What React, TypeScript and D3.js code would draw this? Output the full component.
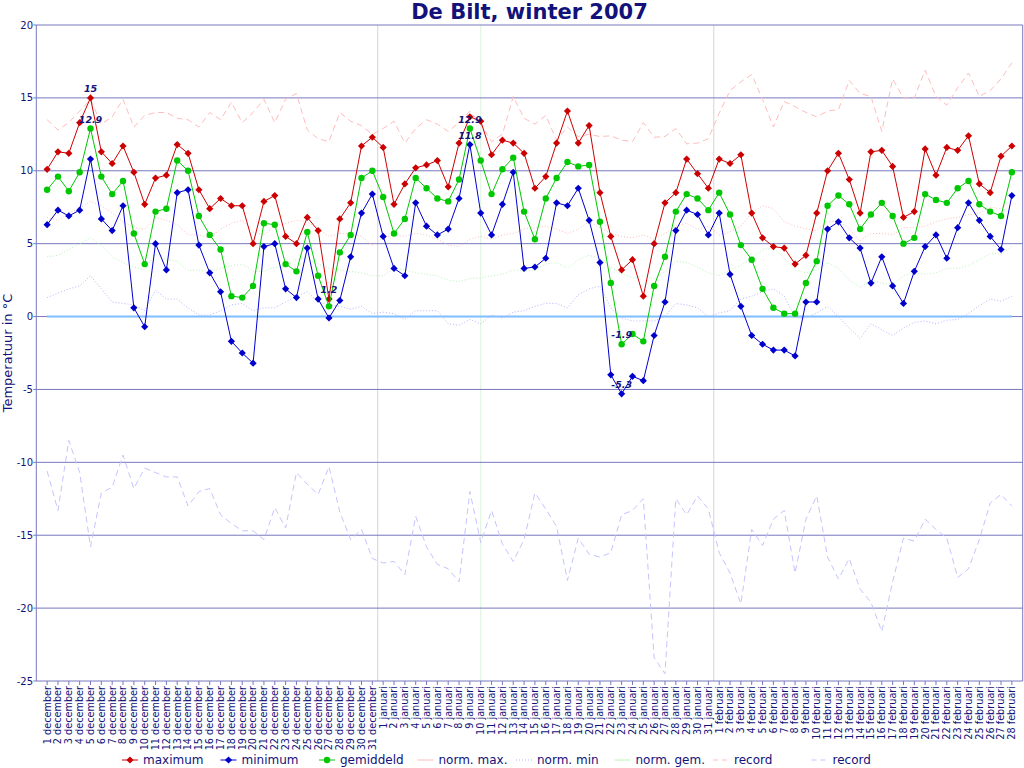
import React from "react";
import * as d3 from "d3";

// dagwaarden De Bilt, 1 dec 2006 t/m 28 feb 2007
const dayLabels: string[] = [
  ...d3.range(1, 32).map((d) => `${d} december`),
  ...d3.range(1, 32).map((d) => `${d} januari`),
  ...d3.range(1, 29).map((d) => `${d} februari`),
];

const maximum = [
  10.1, 11.3, 11.2, 13.3, 15.0, 11.3, 10.5, 11.7, 9.9, 7.7, 9.5, 9.7, 11.8, 11.2, 8.7, 7.4, 8.1, 7.6, 7.6, 5.0,
  7.9, 8.3, 5.5, 5.0, 6.8, 5.9, 1.2, 6.7, 7.8, 11.7, 12.3,
  11.6, 7.7, 9.1, 10.2, 10.4, 10.7, 8.9, 11.9, 13.7, 13.4, 11.1, 12.1, 11.9, 11.2, 8.8, 9.6, 11.9, 14.1, 11.9,
  13.1, 8.5, 5.5, 3.2, 3.9, 1.4, 5.0, 7.8, 8.5, 10.8, 9.8, 8.8,
  10.8, 10.5, 11.1, 7.1, 5.4, 4.8, 4.7, 3.6, 4.2, 7.1, 10.0, 11.2, 9.4, 7.1, 11.3, 11.4, 10.3, 6.8, 7.2, 11.5,
  9.7, 11.6, 11.4, 12.4, 9.1, 8.5, 11.0, 11.7,
];

const minimum = [
  6.3, 7.3, 6.9, 7.3, 10.8, 6.7, 5.9, 7.6, 0.6, -0.7, 5.0, 3.2, 8.5, 8.7, 4.9, 3.0, 1.7, -1.7, -2.5, -3.2,
  4.8, 5.0, 1.9, 1.3, 4.7, 1.2, -0.1, 1.1, 4.1, 7.1, 8.4,
  5.5, 3.3, 2.8, 7.8, 6.2, 5.6, 6.0, 8.1, 11.8, 7.1, 5.6, 7.7, 9.9, 3.3, 3.4, 4.0, 7.8, 7.6, 8.8, 6.6,
  3.7, -4.0, -5.3, -4.1, -4.4, -1.3, 1.0, 5.9, 7.3, 7.0, 5.6,
  7.1, 2.9, 0.7, -1.3, -1.9, -2.3, -2.3, -2.7, 1.0, 1.0, 6.0, 6.5, 5.4, 4.7, 2.3, 4.1, 2.1, 0.9, 3.1, 4.8,
  5.6, 4.0, 6.1, 7.8, 6.6, 5.5, 4.6, 8.3,
];

const gemiddeld = [
  8.7, 9.6, 8.6, 9.9, 12.9, 9.6, 8.4, 9.3, 5.7, 3.6, 7.2, 7.4, 10.7, 10.0, 6.9, 5.6, 4.6, 1.4, 1.3, 2.1,
  6.4, 6.3, 3.6, 3.1, 5.8, 2.8, 0.7, 4.4, 5.6, 9.5, 10.0,
  8.2, 5.7, 6.7, 9.5, 8.8, 8.1, 7.9, 9.4, 12.9, 10.7, 8.4, 10.1, 10.9, 7.2, 5.3, 8.1, 9.5, 10.6, 10.3, 10.4,
  6.5, 2.3, -1.9, -1.2, -1.7, 2.1, 4.1, 7.2, 8.4, 8.1, 7.3,
  8.5, 7.0, 4.9, 3.9, 1.9, 0.6, 0.2, 0.2, 2.3, 3.8, 7.6, 8.3, 7.7, 6.0, 7.0, 7.8, 6.9, 5.0, 5.4, 8.4,
  8.0, 7.8, 8.8, 9.3, 7.7, 7.2, 6.9, 9.9,
];

const normMax = [
  6.8, 6.6, 7.1, 7.4, 7.9, 7.6, 7.1, 6.5, 6.1, 6.0, 6.8, 6.6, 6.3, 5.6, 5.6, 5.4, 6.0, 6.4, 6.6, 5.8,
  5.6, 6.2, 6.4, 6.6, 6.5, 6.0, 5.5, 5.7, 5.7, 5.5, 4.9,
  5.4, 5.6, 5.5, 5.7, 5.6, 5.3, 4.9, 4.8, 5.3, 5.5, 5.3, 5.6, 5.7, 6.0, 6.1, 6.2, 6.0, 5.7, 6.0, 6.5,
  6.1, 5.7, 5.5, 5.4, 5.6, 5.3, 5.7, 6.2, 6.4, 6.0, 6.2,
  5.6, 5.8, 6.2, 7.1, 7.6, 7.4, 6.5, 6.2, 6.0, 5.9, 6.5, 6.6, 6.0, 5.2, 5.7, 5.7, 5.6, 6.1, 6.1, 6.2,
  6.5, 6.7, 6.8, 7.0, 7.1, 7.5, 7.4, 8.0,
];

const normMin = [
  1.3, 1.6, 1.9, 2.1, 2.8, 1.9, 1.0, 0.9, 0.8, 0.4, 1.8, 1.2, 1.2, 0.6, 0.1, 0.1, 0.4, 0.8, 0.9, 0.4,
  0.6, 0.6, 1.0, 1.4, 1.7, 1.0, 0.8, 0.7, 0.5, 0.7, 0.2,
  0.3, 0.2, -0.2, 0.4, 0.4, 0.4, -0.5, -0.6, -0.2, -0.5, 0.1, -0.1, 0.3, 0.4, 0.7, 0.9, 0.9, 0.6, 1.5, 1.9,
  2.1, 0.6, -0.1, -0.3, -0.3, -0.3, 0.0, 0.9, 0.8, 0.6, 0.0,
  0.25, 0.4, 1.2, 1.4, 1.7, 1.9, 1.4, -0.1, -0.1, 0.25, 0.7, 0.0, -0.8, -1.5, -0.5, -0.9, -1.3, -0.8, -0.4, -0.3,
  -0.5, -0.25, -0.2, 0.2, 0.75, 1.2, 1.05, 1.4,
];

const normGem = [
  4.1, 4.2, 4.6, 5.0, 5.4, 4.9, 4.1, 3.7, 3.4, 3.2, 4.3, 3.9, 3.8, 3.15, 3.2, 3.1, 3.3, 3.5, 3.6, 3.1,
  3.1, 3.4, 3.4, 3.9, 4.0, 3.6, 3.3, 3.2, 3.1, 3.0, 2.8,
  2.8, 3.3, 3.2, 3.0, 2.9, 2.8, 2.5, 2.4, 2.6, 2.65, 2.8, 2.9, 3.2, 3.1, 3.2, 3.6, 3.7, 3.3, 3.9, 4.2,
  4.0, 3.4, 2.95, 2.65, 2.8, 2.6, 3.1, 3.8, 3.7, 3.4, 3.0,
  2.8, 3.2, 3.5, 4.0, 4.6, 4.7, 4.0, 3.2, 3.0, 3.2, 3.7, 3.3, 2.5, 2.0, 2.5, 2.3, 2.2, 2.8, 3.0, 2.9,
  3.0, 3.3, 3.3, 3.5, 3.9, 4.3, 4.3, 4.8,
];

const recordMax = [
  13.5, 12.8, 13.3, 14.1, 14.9, 13.2, 13.7, 14.9, 13.0, 13.8, 14.0, 14.0, 13.6, 13.5, 13.0, 14.0, 13.5, 14.7, 13.3, 14.0,
  14.9, 13.3, 14.9, 15.3, 12.8, 12.2, 12.0, 14.0, 13.4, 13.1, 12.5,
  12.9, 13.4, 11.9, 12.9, 13.5, 13.2, 12.7, 13.3, 14.1, 13.2, 12.0, 12.5, 15.1, 13.6, 13.2, 13.8, 12.1, 13.0, 12.35, 12.5,
  12.35, 12.4, 12.1, 12.0, 13.3, 12.3, 12.35, 12.9, 11.85, 11.9, 12.2,
  13.95, 15.5, 16.1, 16.6, 14.9, 13.0, 14.75, 14.4, 14.0, 13.7, 14.1, 14.2, 16.2, 15.3, 15.1, 12.7, 16.3, 15.0, 15.0, 16.9,
  15.1, 14.5, 15.7, 16.7, 15.1, 15.5, 16.3, 17.4,
];

const recordMin = [
  -10.6, -13.3, -8.5, -10.7, -15.8, -12.1, -11.7, -9.5, -11.8, -10.4, -10.7, -11.0, -11.0, -13.0, -12.0, -11.8, -13.6, -14.2, -14.7, -14.7,
  -15.3, -13.1, -14.5, -10.7, -11.5, -12.2, -10.3, -13.4, -15.3, -14.6, -16.6,
  -16.9, -16.8, -17.7, -13.7, -15.8, -17.0, -17.3, -18.2, -12.0, -15.5, -13.3, -15.6, -16.8, -15.3, -12.1, -13.2, -14.4, -18.1, -15.2, -16.3,
  -16.5, -16.2, -13.6, -13.3, -12.5, -23.4, -24.5, -12.5, -13.6, -12.3, -13.2,
  -16.2, -17.6, -19.7, -14.6, -15.7, -13.9, -13.3, -17.6, -13.9, -12.3, -16.5, -18.0, -16.6, -18.7, -19.6, -21.6, -18.2, -15.2, -15.4, -13.9,
  -14.6, -15.2, -17.9, -17.3, -15.3, -12.8, -12.2, -13.0,
];

const yTicks = [-25, -20, -15, -10, -5, 0, 5, 10, 15, 20];

// uitschieters met een waardelabel: [reeks, dag]
const annotations: [string, string][] = [
  ["maximum", "5 december"],
  ["gemiddeld", "5 december"],
  ["maximum", "27 december"],
  ["gemiddeld", "9 januari"],
  ["minimum", "9 januari"],
  ["gemiddeld", "23 januari"],
  ["minimum", "23 januari"],
];

const monthStarts = ["1 januari", "1 februari"];
const markedDay = "10 januari";

const width = 1024;
const height = 768;
const left = 36.3;
const right = 1022.7;
const top = 25;
const bottom = 681;

const navy = "#12127a";
const gridColor = "#7878bf";
const font = "DejaVu Sans, Verdana, sans-serif";

type Series = {
  name: string;
  values: number[];
  color: string;
  width: number;
  dash?: string;
  marker?: "diamond" | "circle";
};

const series: Series[] = [
  { name: "record max", values: recordMax, color: "#ffbcbc", width: 1, dash: "6,4" },
  { name: "record min", values: recordMin, color: "#c4c4ff", width: 1, dash: "6,4" },
  { name: "norm. max.", values: normMax, color: "#ffbcbc", width: 1, dash: "1,2" },
  { name: "norm. min", values: normMin, color: "#b4b4ff", width: 1, dash: "1,2" },
  { name: "norm. gem.", values: normGem, color: "#b8f5b8", width: 1, dash: "1,2" },
  { name: "maximum", values: maximum, color: "#cc0000", width: 1, marker: "diamond" },
  { name: "minimum", values: minimum, color: "#0000cc", width: 1, marker: "diamond" },
  { name: "gemiddeld", values: gemiddeld, color: "#00c800", width: 1, marker: "circle" },
];

const legendItems: { label: string; color: string; dash?: string; marker?: "diamond" | "circle" }[] = [
  { label: "maximum", color: "#cc0000", marker: "diamond" },
  { label: "minimum", color: "#0000cc", marker: "diamond" },
  { label: "gemiddeld", color: "#00c800", marker: "circle" },
  { label: "norm. max.", color: "#ffbcbc" },
  { label: "norm. min", color: "#b4b4ff", dash: "1,2" },
  { label: "norm. gem.", color: "#b8f5b8" },
  { label: "record", color: "#ffbcbc", dash: "5,4" },
  { label: "record", color: "#c4c4ff", dash: "5,4" },
];

// ruitje zoals jpgraph het tekent: even breed als hoog
const diamond = "M0,-3.6L3.6,0L0,3.6L-3.6,0Z";

const Marker = ({ kind, x, y, color }: { kind: "diamond" | "circle"; x: number; y: number; color: string }) =>
  kind === "circle" ? (
    <circle cx={x} cy={y} r={3.2} fill={color} />
  ) : (
    <path d={diamond} transform={`translate(${x},${y})`} fill={color} />
  );

export default function App() {
  const x = d3.scalePoint<string>().domain(dayLabels).range([left, right]).padding(1);
  const y = d3.scaleLinear().domain([-25, 20]).range([bottom, top]);

  const line = d3
    .line<number>()
    .x((_, i) => x(dayLabels[i]) as number)
    .y((d) => y(d));

  const byName = new Map(series.map((s) => [s.name, s]));

  return (
    <div style={{ position: "fixed", left: 0, top: 0, width, height, overflow: "hidden", background: "#fff" }}>
      <svg width={width} height={height} style={{ display: "block", fontFamily: font }}>
        <text x={529.5} y={18.5} textAnchor="middle" fontSize={21} fontWeight="bold" fill={navy}>
          De Bilt, winter 2007
        </text>

        {/* verticale hulplijnen */}
        {monthStarts.map((m) => {
          const i = dayLabels.indexOf(m);
          const xm = ((x(dayLabels[i - 1]) as number) + (x(m) as number)) / 2;
          return <line key={m} x1={xm} x2={xm} y1={top} y2={bottom} stroke="#d4d4d4" />;
        })}
        <line x1={x(markedDay)} x2={x(markedDay)} y1={top} y2={bottom} stroke="#dcf2dc" />

        {/* rasterlijnen */}
        {yTicks.map((t) => (
          <g key={t}>
            <line x1={left} x2={right} y1={y(t)} y2={y(t)} stroke={gridColor} />
            <line x1={left - 3} x2={left} y1={y(t)} y2={y(t)} stroke={gridColor} />
            <text x={33} y={y(t)} dy="0.35em" textAnchor="end" fontSize={10} fill={navy}>
              {t}
            </text>
          </g>
        ))}
        <line x1={left} x2={left} y1={top} y2={bottom} stroke={gridColor} />
        <line x1={right} x2={right} y1={top} y2={bottom} stroke={gridColor} />

        {/* nullijn */}
        <line
          x1={x(dayLabels[0])}
          x2={x(dayLabels[dayLabels.length - 1])}
          y1={y(0)}
          y2={y(0)}
          stroke="#7fbfff"
          strokeWidth={2}
        />

        {series.map((s) => (
          <g key={s.name}>
            <path d={line(s.values) || ""} fill="none" stroke={s.color} strokeWidth={s.width} strokeDasharray={s.dash} />
            {s.marker &&
              s.values.map((v, i) => (
                <Marker key={i} kind={s.marker!} x={x(dayLabels[i]) as number} y={y(v)} color={s.color} />
              ))}
          </g>
        ))}

        {annotations.map(([name, day], k) => {
          const v = byName.get(name)!.values[dayLabels.indexOf(day)];
          return (
            <text
              key={k}
              x={x(day)}
              y={y(v) - 6}
              textAnchor="middle"
              fontSize={9.5}
              fontWeight="bold"
              fontStyle="italic"
              fill={navy}
            >
              {String(v)}
            </text>
          );
        })}

        {/* x-as */}
        {dayLabels.map((d) => {
          const xd = x(d) as number;
          return (
            <g key={d}>
              <line x1={xd} x2={xd} y1={bottom} y2={bottom + 4} stroke={gridColor} />
              <text
                transform={`translate(${xd},${bottom + 5}) rotate(-90)`}
                dy="0.35em"
                textAnchor="end"
                fontSize={9.7}
                fill={navy}
              >
                {d}
              </text>
            </g>
          );
        })}

        <text transform={`translate(12,353) rotate(-90)`} textAnchor="middle" fontSize={13} fill={navy}>
          Temperatuur in °C
        </text>

        {/* legenda */}
        {legendItems.map((it, k) => {
          const tx = 143 + k * 98.5;
          const ly = 760;
          return (
            <g key={k}>
              <line x1={tx - 21} x2={tx - 5} y1={ly} y2={ly} stroke={it.color} strokeDasharray={it.dash} />
              {it.marker && <Marker kind={it.marker} x={tx - 13} y={ly} color={it.color} />}
              <text x={tx} y={ly} dy="0.35em" fontSize={12} fill={navy}>
                {it.label}
              </text>
            </g>
          );
        })}
      </svg>
    </div>
  );
}
